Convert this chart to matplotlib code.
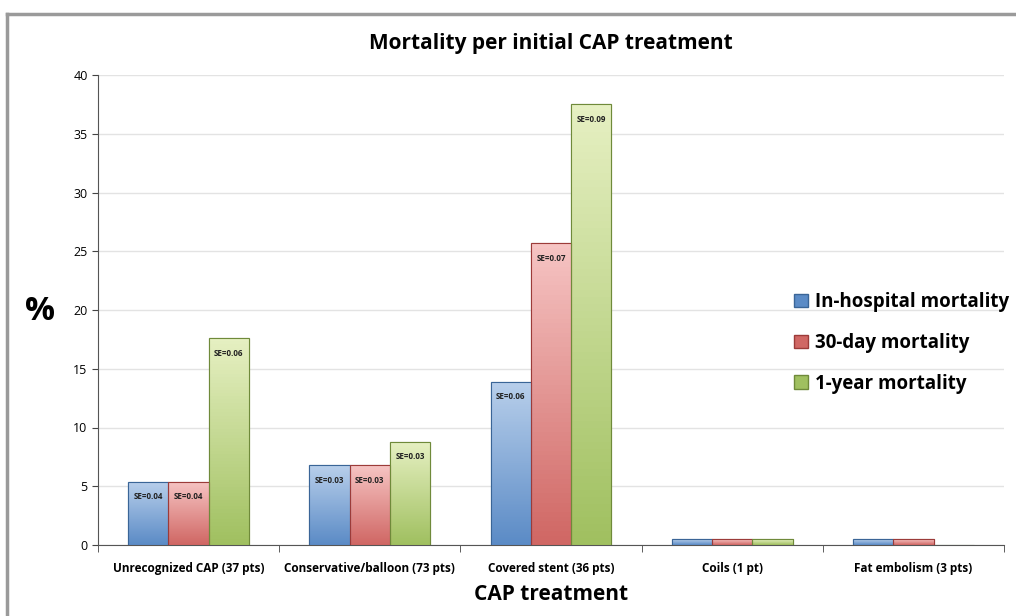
import numpy as np
import matplotlib.pyplot as plt
from matplotlib.lines import Line2D
from matplotlib.colors import LinearSegmentedColormap
from matplotlib.patches import Patch

plt.rcParams['font.family'] = ['Open Sans', 'DejaVu Sans']

categories = ["Unrecognized CAP (37 pts)", "Conservative/balloon (73 pts)",
              "Covered stent (36 pts)", "Coils (1 pt)", "Fat embolism (3 pts)"]
series = ["In-hospital mortality", "30-day mortality", "1-year mortality"]
in_hospital = [5.4, 6.8, 13.9, 0.5, 0.5]
day30 = [5.4, 6.8, 25.7, 0.5, 0.5]
year1 = [17.6, 8.8, 37.5, 0.5, 0.0]
se_in_hospital = ["SE=0.04", "SE=0.03", "SE=0.06", "", ""]
se_day30 = ["SE=0.04", "SE=0.03", "SE=0.07", "", ""]
se_year1 = ["SE=0.06", "SE=0.03", "SE=0.09", "", ""]

# light (top) / dark (bottom) shades for each series
shades = [("#b8cfeb", "#5b8bc6"), ("#f6c4c3", "#d06764"), ("#e6f0c2", "#a0c060")]
edges = ["#3a6597", "#9c3b39", "#6f8a3a"]

fig = plt.figure(figsize=(10.16, 6.16), dpi=100)
ax = fig.add_axes([98 / 1016, 1 - 545 / 616, 906 / 1016, 470 / 616])

x = np.arange(len(categories))
w = 0.222
data = [in_hospital, day30, year1]
labels = [se_in_hospital, se_day30, se_year1]
for i, (vals, se) in enumerate(zip(data, labels)):
    pos = x + (i - 1) * w
    bars = ax.bar(pos, vals, w, color=shades[i][1], edgecolor=edges[i], linewidth=0.8, zorder=3)
    cmap = LinearSegmentedColormap.from_list("s%d" % i, [shades[i][1], shades[i][0]])
    for b, v, s in zip(bars, vals, se):
        if v <= 0:
            continue
        grad = np.linspace(0, 1, 64).reshape(-1, 1)
        im = ax.imshow(grad, cmap=cmap, aspect="auto", origin="lower",
                       extent=[b.get_x(), b.get_x() + w, 0, v], zorder=3.5)
        im.set_clip_path(b)
        ax.bar(b.get_x() + w / 2, v, w, fill=False, edgecolor=edges[i], linewidth=0.8, zorder=4)
        if s:
            ax.text(b.get_x() + w / 2, v - 1.3, s, ha="center", va="center",
                    fontsize=5.8, fontweight="bold", color="#222222", zorder=5)

ax.set_xlim(-0.5, len(categories) - 0.5)
ax.set_ylim(0, 40)
ax.set_yticks(np.arange(0, 41, 5))
ax.tick_params(axis="y", labelsize=9, length=4, color="#444444")
ax.set_xticks(x)
ax.set_xticklabels(categories, fontsize=8.5, fontweight="bold")
ax.set_xticks(np.arange(-0.5, len(categories), 1), minor=True)
ax.tick_params(axis="x", which="major", length=0, pad=12)
ax.tick_params(axis="x", which="minor", length=5, color="#444444")
ax.grid(axis="y", color="#e3e3e3", linewidth=1, zorder=0)
ax.set_axisbelow(True)
for sp in ["top", "right"]:
    ax.spines[sp].set_visible(False)
ax.spines["left"].set_color("#555555")
ax.spines["bottom"].set_color("#555555")

ax.set_title("Mortality per initial CAP treatment", fontsize=15, fontweight="bold", pad=19)
ax.set_xlabel("CAP treatment", fontsize=15, fontweight="bold", labelpad=7)
fig.text(40 / 1016, 1 - 312 / 616, "%", fontsize=24, fontweight="bold", ha="center", va="center")

handles = [Patch(facecolor=shades[i][1], edgecolor=edges[i]) for i in range(3)]
leg = ax.legend(handles, series, loc="center left", bbox_to_anchor=(0.75, 0.43),
                frameon=False, prop={"weight": "bold", "size": 13.5},
                handlelength=0.7, handleheight=0.7, handletextpad=0.4, labelspacing=1.1)

# gray frame around the figure
fig.add_artist(Line2D([7 / 1016, 7 / 1016], [0, 1 - 14 / 616], color="#9a9a9a", linewidth=2.5))
fig.add_artist(Line2D([7 / 1016, 1], [1 - 14 / 616, 1 - 14 / 616], color="#9a9a9a", linewidth=2.5))

fig.savefig("out.png", dpi=100)
